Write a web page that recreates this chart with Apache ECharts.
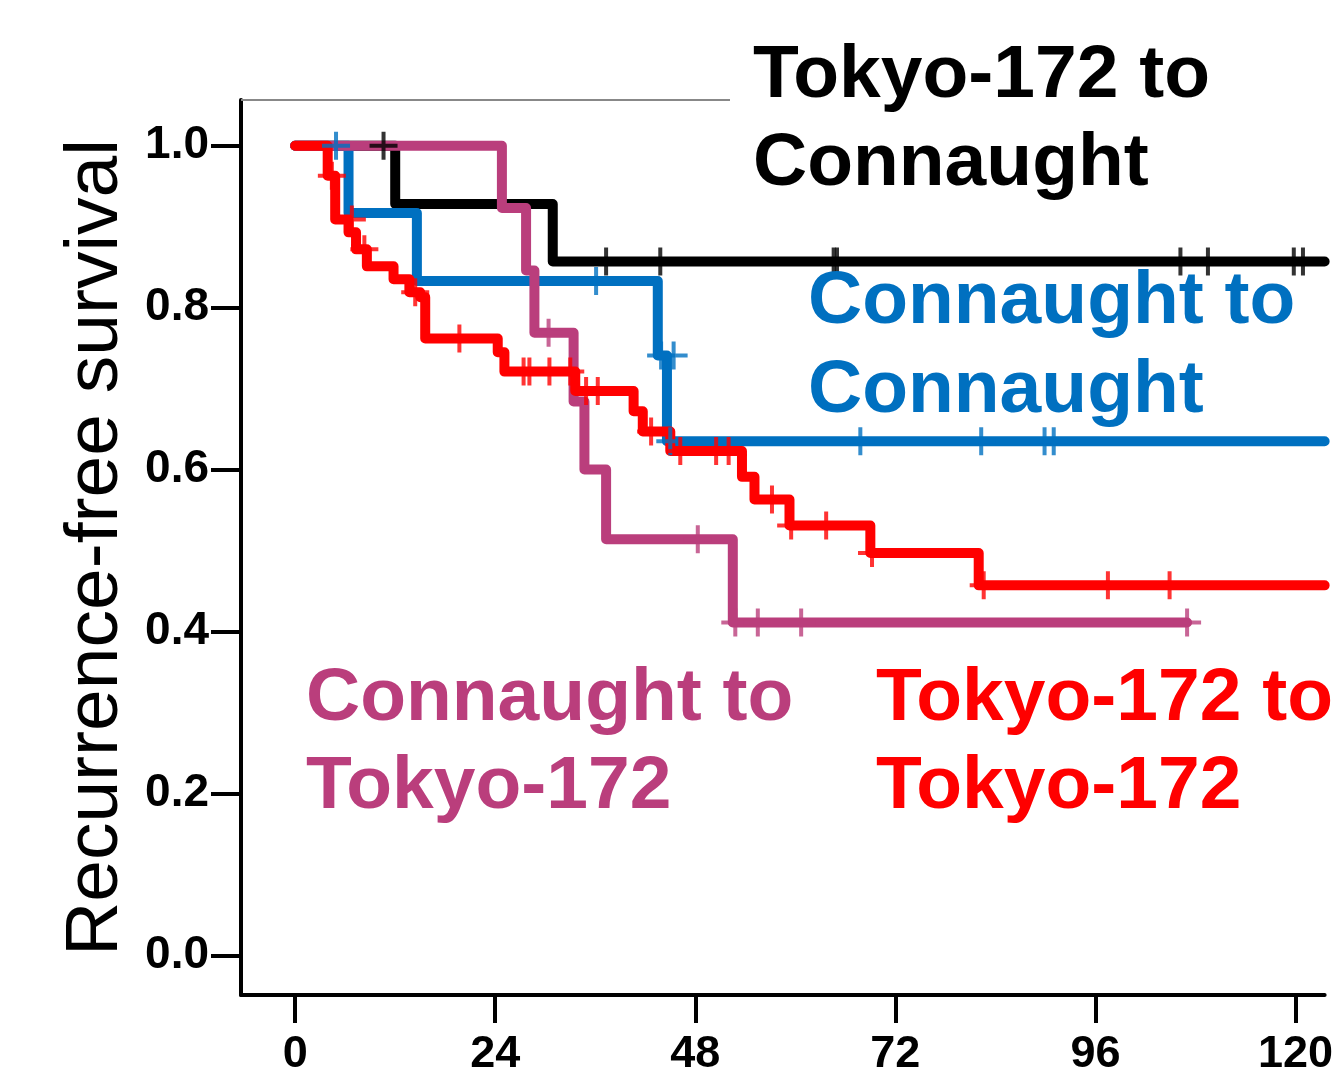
<!DOCTYPE html>
<html>
<head>
<meta charset="utf-8">
<title>Recurrence-free survival</title>
<script src="https://cdn.jsdelivr.net/npm/echarts@6/dist/echarts.min.js"></script>
<style>
	html, body { margin: 0; padding: 0; background: #fff; }
	#chart { width: 1336px; height: 1077px; }
</style>
</head>
<body>
<div id="chart"></div>
<script>
	// 刻度
	var xTicks = [0, 24, 48, 72, 96, 120];
	var yTicks = [0, 0.2, 0.4, 0.6, 0.8, 1.0];

	// Tokyo-172 to Connaught  [月, 生存率]
	var tcSteps = [[0, 1], [12.0, 0.928], [30.9, 0.857], [123.5, 0.857]];
	var tcCensor = [[10.6, 1], [37.3, 0.857], [43.8, 0.857], [64.6, 0.857], [65.0, 0.857], [106.2, 0.857], [109.5, 0.857], [119.8, 0.857], [120.9, 0.857]];

	// Connaught to Connaught
	var ccSteps = [[0, 1], [6.4, 0.917], [14.6, 0.833], [43.5, 0.741], [44.6, 0.635], [123.5, 0.635]];
	var ccCensor = [[4.9, 1], [36.1, 0.833], [43.9, 0.741], [45.4, 0.741], [45.0, 0.635], [67.8, 0.635], [82.3, 0.635], [89.9, 0.635], [91.0, 0.635]];

	// Connaught to Tokyo-172
	var ctSteps = [[0, 1], [24.8, 0.923], [27.7, 0.846], [28.7, 0.769], [33.4, 0.684], [34.7, 0.600], [37.3, 0.514], [52.5, 0.411], [107.0, 0.411]];
	var ctCensor = [[30.4, 0.769], [48.3, 0.514], [52.8, 0.411], [55.5, 0.411], [60.7, 0.411], [107.0, 0.411]];

	// Tokyo-172 to Tokyo-172
	var ttSteps = [[0, 1], [3.9, 0.963], [4.8, 0.909], [6.4, 0.893], [7.3, 0.872], [8.6, 0.851], [11.8, 0.835], [13.7, 0.819], [15.0, 0.813], [15.6, 0.762],
		[24.3, 0.745], [25.1, 0.721], [33.6, 0.697], [40.6, 0.672], [41.7, 0.647], [45.0, 0.623], [53.6, 0.591], [55.1, 0.563], [59.3, 0.531],
		[69.0, 0.497], [82.0, 0.457], [123.5, 0.457]];
	var ttCensor = [[4.4, 0.963], [6.8, 0.909], [8.3, 0.872], [14.4, 0.819], [19.7, 0.762], [27.4, 0.721], [28.1, 0.721], [30.5, 0.721], [33.0, 0.721],
		[34.9, 0.697], [36.3, 0.697], [42.7, 0.647], [46.2, 0.623], [50.5, 0.623], [52.0, 0.623], [57.2, 0.563], [59.5, 0.531], [63.7, 0.531],
		[69.2, 0.497], [82.6, 0.457], [97.5, 0.457], [104.9, 0.457]];

	var FONT = '"Liberation Sans", Arial, sans-serif';
	var PLUS = 'path://M-2,-14 L2,-14 L2,-2 L14,-2 L14,2 L2,2 L2,14 L-2,14 L-2,2 L-14,2 L-14,-2 L-2,-2 Z';

	function stepLine(name, data, color, z) {
		return {
			name: name,
			type: 'line',
			step: 'end',
			symbol: 'none',
			z: z,
			lineStyle: { color: color, width: 10, cap: 'round', join: 'round' },
			data: data
		};
	}
	function censorMarks(name, data, color) {
		return {
			name: name,
			type: 'scatter',
			symbol: PLUS,
			symbolSize: [28, 28],
			z: 10,
			itemStyle: { color: color },
			data: data
		};
	}

	var myChart = echarts.init(document.getElementById('chart'));
	var option = {
		animation: false,
		backgroundColor: '#fff',
		grid: { left: 241, right: 0, top: 100, bottom: 77, containLabel: false },
		xAxis: {
			type: 'value',
			min: -6.5,
			max: 123.5,
			axisLine: { onZero: false, lineStyle: { color: '#000', width: 4 } },
			axisTick: { customValues: xTicks, length: 28, lineStyle: { color: '#000', width: 4 } },
			axisLabel: { customValues: xTicks, margin: 37, color: '#000', fontSize: 45, fontWeight: 'bold', fontFamily: FONT },
			splitLine: { show: false }
		},
		yAxis: {
			type: 'value',
			min: -0.049,
			max: 1.0565,
			name: 'Recurrence-free survival',
			nameLocation: 'middle',
			nameRotate: 90,
			nameGap: 107,
			nameTextStyle: { color: '#000', fontSize: 75, fontFamily: FONT },
			axisLine: { show: true, onZero: false, lineStyle: { color: '#000', width: 4 } },
			axisTick: { show: true, customValues: yTicks, length: 30, lineStyle: { color: '#000', width: 4 } },
			axisLabel: {
				customValues: yTicks, margin: 32, color: '#000', fontSize: 46, fontWeight: 'bold', fontFamily: FONT,
				formatter: function (v) { return v.toFixed(1); }
			},
			splitLine: { show: false }
		},
		graphic: [
			{ type: 'line', shape: { x1: 241, y1: 100, x2: 730, y2: 100 }, style: { stroke: '#888', lineWidth: 2 }, z: 1 },
			{ type: 'text', x: 753, y: 120, z: 20, style: { text: 'Tokyo-172 to\nConnaught', fill: '#000', font: 'bold 75px ' + FONT, lineHeight: 88, verticalAlign: 'middle' } },
			{ type: 'text', x: 808, y: 347, z: 20, style: { text: 'Connaught to\nConnaught', fill: '#0070C0', font: 'bold 75px ' + FONT, lineHeight: 89, verticalAlign: 'middle' } },
			{ type: 'text', x: 306, y: 743, z: 20, style: { text: 'Connaught to\nTokyo-172', fill: '#BA3E7C', font: 'bold 75px ' + FONT, lineHeight: 88, verticalAlign: 'middle' } },
			{ type: 'text', x: 876, y: 743, z: 20, style: { text: 'Tokyo-172 to\nTokyo-172', fill: '#FF0000', font: 'bold 75px ' + FONT, lineHeight: 88, verticalAlign: 'middle' } }
		],
		series: [
			stepLine('Tokyo-172 to Connaught', tcSteps, '#000000', 2),
			stepLine('Connaught to Connaught', ccSteps, '#0070C0', 3),
			stepLine('Connaught to Tokyo-172', ctSteps, '#BA3E7C', 4),
			stepLine('Tokyo-172 to Tokyo-172', ttSteps, '#FF0000', 5),
			censorMarks('Tokyo-172 to Connaught', tcCensor, '#000000'),
			censorMarks('Connaught to Connaught', ccCensor, '#0070C0'),
			censorMarks('Connaught to Tokyo-172', ctCensor, '#BA3E7C'),
			censorMarks('Tokyo-172 to Tokyo-172', ttCensor, '#FF0000')
		]
	};
	myChart.setOption(option);
</script>
</body>
</html>
